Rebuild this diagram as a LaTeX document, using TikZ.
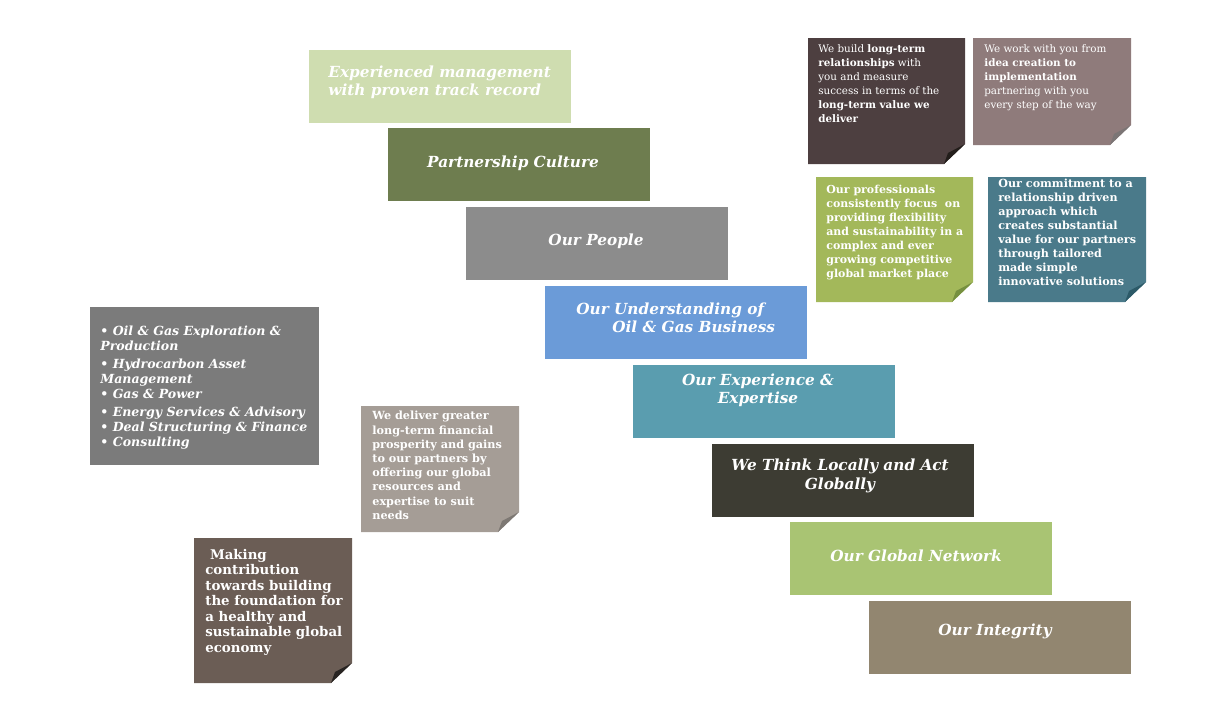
\documentclass[tikz,border=0pt]{standalone}
\usepackage{fontspec}
\setmainfont{DejaVu Serif}
\definecolor{sA}{HTML}{CFDDB0}
\definecolor{sB}{HTML}{6E7D4F}
\definecolor{sC}{HTML}{8C8C8C}
\definecolor{sD}{HTML}{6B9BD8}
\definecolor{sE}{HTML}{5A9DAF}
\definecolor{sF}{HTML}{3D3C33}
\definecolor{sG}{HTML}{A9C473}
\definecolor{sH}{HTML}{928670}
\definecolor{nDark}{HTML}{4D3F40}
\definecolor{nDarkF}{HTML}{231E1B}
\definecolor{nMauve}{HTML}{8F7B7B}
\definecolor{nMauveF}{HTML}{7B7575}
\definecolor{nGreen}{HTML}{A3B85A}
\definecolor{nGreenF}{HTML}{76903F}
\definecolor{nTeal}{HTML}{4A7A8A}
\definecolor{nTealF}{HTML}{2C5A68}
\definecolor{nTaupe}{HTML}{A59D96}
\definecolor{nTaupeF}{HTML}{7D7873}
\definecolor{nBrown}{HTML}{6B5D55}
\definecolor{nBrownF}{HTML}{282422}
\definecolor{nList}{HTML}{7B7B7B}
\newcommand{\mynote}[6]{%
  \fill[#5] (#1,#2) -- (#3,#2) -- (#3,#4-20) -- (#3-21,#4) -- (#1,#4) -- cycle;
  \fill[#6] (#3-21,#4) -- (#3,#4-20) -- (#3-17,#4-11) -- cycle;}
\begin{document}
\begin{tikzpicture}[x=0.02cm,y=-0.02cm,
  stepbox/.style={rectangle, inner sep=0pt, anchor=north west, minimum width=5.24cm, minimum height=1.46cm},
  steptext/.style={inner sep=0pt, text=white, font=\bfseries\itshape\fontsize{8.7}{10.4}\selectfont, align=center},
  notetext/.style={inner sep=0pt, anchor=north west, text=white, align=left}]
\useasboundingbox (0,0) rectangle (1220,700);

% steps
\node[stepbox, fill=sA] (b1) at (309,50) {};
\node[stepbox, fill=sB] (b2) at (388,128) {};
\node[stepbox, fill=sC] (b3) at (466,207) {};
\node[stepbox, fill=sD] (b4) at (545,286) {};
\node[stepbox, fill=sE] (b5) at (633,365) {};
\node[stepbox, fill=sF] (b6) at (712,444) {};
\node[stepbox, fill=sG] (b7) at (790,522) {};
\node[stepbox, fill=sH] (b8) at (869,601) {};

\node[steptext, anchor=west, align=left] (t1) at (328,82) {Experienced management\\with proven track record};
\node[steptext] (t2) at (513,163) {Partnership Culture};
\node[steptext] (t3) at (596,241) {Our People};
\node[steptext, anchor=west, align=left] (t4) at (576,318) {Our Understanding of\\\hspace*{0.72cm}Oil \& Gas Business};
\node[steptext] (t5) at (758,390) {Our Experience \&\\Expertise};
\node[steptext] (t6) at (840,476) {We Think Locally and Act\\Globally};
\node[steptext] (t7) at (916,556) {Our Global Network};
\node[steptext] (t8) at (995,631) {Our Integrity};

% notes
\mynote{808}{38}{965}{164}{nDark}{nDarkF}
\mynote{973}{38}{1131}{145}{nMauve}{nMauveF}
\mynote{816}{177}{973}{302}{nGreen}{nGreenF}
\mynote{988}{177}{1146}{302}{nTeal}{nTealF}
\mynote{361}{406}{519}{532}{nTaupe}{nTaupeF}
\mynote{194}{538}{352}{683}{nBrown}{nBrownF}
\fill[nList] (90,307) rectangle (319,465);

\node[notetext, font=\fontsize{5.9}{7.97}\selectfont] (n1) at (818,44)
  {We build \textbf{long-term}\\\textbf{relationships} with\\you and measure\\success in terms of the\\\textbf{long-term value we}\\\textbf{deliver}};
\node[notetext, font=\fontsize{5.9}{7.97}\selectfont] (n2) at (984,44)
  {We work with you from\\\textbf{idea creation to}\\\textbf{implementation}\\partnering with you\\every step of the way};
\node[notetext, font=\bfseries\fontsize{6.25}{7.97}\selectfont] (n3) at (826,185)
  {Our professionals\\consistently focus\ \ on\\providing flexibility\\and sustainability in a\\complex and ever\\growing competitive\\global market place};
\node[notetext, font=\bfseries\fontsize{6.35}{7.97}\selectfont] (n4) at (998,179)
  {Our commitment to a\\relationship driven\\approach which\\creates substantial\\value for our partners\\through tailored\\made simple\\innovative solutions};
\node[notetext, font=\bfseries\fontsize{6.4}{8.08}\selectfont] (n5) at (372,411)
  {We deliver greater\\long-term financial\\prosperity and gains\\to our partners by\\offering our global\\resources and\\expertise to suit\\needs};
\node[notetext, font=\bfseries\fontsize{7.6}{8.8}\selectfont] (n6) at (205,549)
  {\ Making\\contribution\\towards building\\the foundation for\\a healthy and\\sustainable global\\economy};
\node[notetext, font=\bfseries\itshape\fontsize{7.15}{8.54}\selectfont] (n7) at (100,326)
  {• Oil \& Gas Exploration \&\\Production\\[1.7pt]• Hydrocarbon Asset\\Management\\• Gas \& Power\\[1.7pt]• Energy Services \& Advisory\\• Deal Structuring \& Finance\\• Consulting};
\end{tikzpicture}
\end{document}
